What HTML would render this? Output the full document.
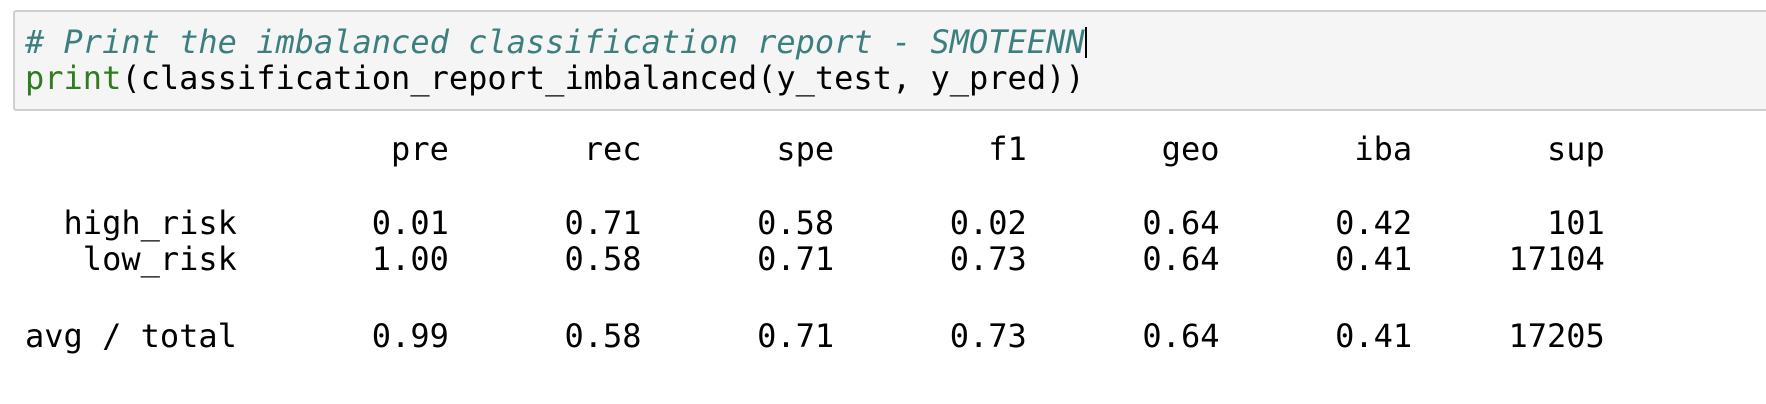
<!DOCTYPE html>
<html><head><meta charset="utf-8">
<style>
html,body{margin:0;padding:0;width:1766px;height:404px;background:#fff;overflow:hidden}
.mono{font-family:"DejaVu Sans Mono","Liberation Mono",monospace;font-size:32px;line-height:36px;white-space:pre;position:absolute;left:25px;color:#000}
#cell{position:absolute;left:13px;top:10px;width:1760px;height:101px;background:#f5f5f5;border:2px solid #cfcfcf;border-radius:3px;box-sizing:border-box}
.cm{color:#3d7f7f;font-style:italic}
.bi{color:#2f7d1f}
.cursor{display:inline-block;width:2px;height:31px;background:#000;vertical-align:-5px}
</style></head><body>
<div id="cell"></div>
<div class="mono" style="top:24px"><span class="cm"># Print the imbalanced classification report - SMOTEENN</span><span class="cursor"></span></div>
<div class="mono" style="top:60px"><span class="bi">print</span>(classification_report_imbalanced(y_test, y_pred))</div>
<div class="mono" style="top:131px">                   pre       rec       spe        f1       geo       iba       sup</div>
<div class="mono" style="top:205px">  high_risk       0.01      0.71      0.58      0.02      0.64      0.42       101</div>
<div class="mono" style="top:241px">   low_risk       1.00      0.58      0.71      0.73      0.64      0.41     17104</div>
<div class="mono" style="top:318px">avg / total       0.99      0.58      0.71      0.73      0.64      0.41     17205</div>
</body></html>
